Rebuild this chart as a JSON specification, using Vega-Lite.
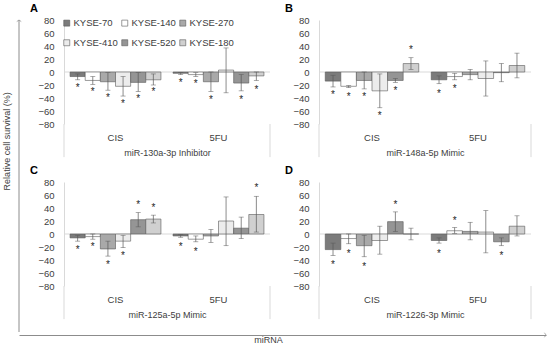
{
  "$schema": "https://vega.github.io/schema/vega-lite/v6.json",
  "padding": {"left": 2, "top": 3, "right": 2, "bottom": 0},
  "config": {
    "view": {"stroke": null},
    "font": "Liberation Sans",
    "axis": {"grid": false, "labelOverlap": false}
  },
  "datasets": {
    "d": [
      {"p": "A", "g": "CIS", "c": "KYSE-70", "v": -7, "lo": -12, "hi": -3, "s": -21},
      {"p": "A", "g": "CIS", "c": "KYSE-140", "v": -13, "lo": -19, "hi": -7, "s": -28},
      {"p": "A", "g": "CIS", "c": "KYSE-270", "v": -15, "lo": -28, "hi": -1, "s": -37},
      {"p": "A", "g": "CIS", "c": "KYSE-410", "v": -22, "lo": -37, "hi": -7, "s": -46},
      {"p": "A", "g": "CIS", "c": "KYSE-520", "v": -16, "lo": -30, "hi": -1, "s": -38},
      {"p": "A", "g": "CIS", "c": "KYSE-180", "v": -12, "lo": -20, "hi": -3, "s": -28},
      {"p": "A", "g": "5FU", "c": "KYSE-70", "v": -2, "lo": -4, "hi": -1, "s": -14},
      {"p": "A", "g": "5FU", "c": "KYSE-140", "v": -4, "lo": -7, "hi": -1, "s": -16},
      {"p": "A", "g": "5FU", "c": "KYSE-270", "v": -15, "lo": -30, "hi": 0, "s": -40},
      {"p": "A", "g": "5FU", "c": "KYSE-410", "v": 3, "lo": -32, "hi": 37, "s": null},
      {"p": "A", "g": "5FU", "c": "KYSE-520", "v": -17, "lo": -29, "hi": -4, "s": -40},
      {"p": "A", "g": "5FU", "c": "KYSE-180", "v": -6, "lo": -13, "hi": 0, "s": -24},

      {"p": "B", "g": "CIS", "c": "KYSE-70", "v": -14, "lo": -23, "hi": -5, "s": -32},
      {"p": "B", "g": "CIS", "c": "KYSE-140", "v": -22, "lo": -24, "hi": -21, "s": -35},
      {"p": "B", "g": "CIS", "c": "KYSE-270", "v": -13, "lo": -26, "hi": 0, "s": -36},
      {"p": "B", "g": "CIS", "c": "KYSE-410", "v": -29, "lo": -55, "hi": -3, "s": -65},
      {"p": "B", "g": "CIS", "c": "KYSE-520", "v": -13, "lo": -16, "hi": -10, "s": -26},
      {"p": "B", "g": "CIS", "c": "KYSE-180", "v": 13, "lo": 4, "hi": 22, "s": 37},
      {"p": "B", "g": "5FU", "c": "KYSE-70", "v": -12, "lo": -18, "hi": -6, "s": -30},
      {"p": "B", "g": "5FU", "c": "KYSE-140", "v": -7, "lo": -12, "hi": -2, "s": -23},
      {"p": "B", "g": "5FU", "c": "KYSE-270", "v": -4, "lo": -12, "hi": 4, "s": null},
      {"p": "B", "g": "5FU", "c": "KYSE-410", "v": -10, "lo": -37, "hi": 17, "s": null},
      {"p": "B", "g": "5FU", "c": "KYSE-520", "v": -1, "lo": -15, "hi": 13, "s": null},
      {"p": "B", "g": "5FU", "c": "KYSE-180", "v": 10, "lo": -9, "hi": 29, "s": null},

      {"p": "C", "g": "CIS", "c": "KYSE-70", "v": -6, "lo": -11, "hi": -2, "s": -21},
      {"p": "C", "g": "CIS", "c": "KYSE-140", "v": -4, "lo": -8, "hi": 0, "s": -17},
      {"p": "C", "g": "CIS", "c": "KYSE-270", "v": -23, "lo": -34, "hi": -11, "s": -44},
      {"p": "C", "g": "CIS", "c": "KYSE-410", "v": -11, "lo": -21, "hi": -2, "s": -30},
      {"p": "C", "g": "CIS", "c": "KYSE-520", "v": 22, "lo": 11, "hi": 33, "s": 48},
      {"p": "C", "g": "CIS", "c": "KYSE-180", "v": 23, "lo": 17, "hi": 29, "s": 43},
      {"p": "C", "g": "5FU", "c": "KYSE-70", "v": -3, "lo": -5, "hi": -1, "s": -17},
      {"p": "C", "g": "5FU", "c": "KYSE-140", "v": -8, "lo": -12, "hi": -3, "s": -24},
      {"p": "C", "g": "5FU", "c": "KYSE-270", "v": -3, "lo": -13, "hi": 7, "s": null},
      {"p": "C", "g": "5FU", "c": "KYSE-410", "v": 20, "lo": -18, "hi": 57, "s": null},
      {"p": "C", "g": "5FU", "c": "KYSE-520", "v": 9, "lo": -7, "hi": 26, "s": null},
      {"p": "C", "g": "5FU", "c": "KYSE-180", "v": 30, "lo": 3, "hi": 58, "s": 74},

      {"p": "D", "g": "CIS", "c": "KYSE-70", "v": -24, "lo": -33, "hi": -14, "s": -45},
      {"p": "D", "g": "CIS", "c": "KYSE-140", "v": -7, "lo": -15, "hi": 0, "s": -27},
      {"p": "D", "g": "CIS", "c": "KYSE-270", "v": -18, "lo": -35, "hi": -2, "s": -47},
      {"p": "D", "g": "CIS", "c": "KYSE-410", "v": -10, "lo": -31, "hi": 12, "s": null},
      {"p": "D", "g": "CIS", "c": "KYSE-520", "v": 19, "lo": 4, "hi": 34, "s": 47},
      {"p": "D", "g": "CIS", "c": "KYSE-180", "v": 0, "lo": -9, "hi": 9, "s": null},
      {"p": "D", "g": "5FU", "c": "KYSE-70", "v": -10, "lo": -14, "hi": -6, "s": -27},
      {"p": "D", "g": "5FU", "c": "KYSE-140", "v": 5, "lo": 1, "hi": 10, "s": 23},
      {"p": "D", "g": "5FU", "c": "KYSE-270", "v": 4, "lo": -9, "hi": 18, "s": null},
      {"p": "D", "g": "5FU", "c": "KYSE-410", "v": 3, "lo": -29, "hi": 36, "s": null},
      {"p": "D", "g": "5FU", "c": "KYSE-520", "v": -12, "lo": -18, "hi": -6, "s": -31},
      {"p": "D", "g": "5FU", "c": "KYSE-180", "v": 12, "lo": -3, "hi": 28, "s": null}
    ]
  },
  "hconcat": [
    {
      "width": 1,
      "height": 312,
      "layer": [
        {"data": {"values": [{}]}, "mark": {"type": "rule", "strokeOpacity": 0},
          "encoding": {"y": {"datum": 0, "type": "quantitative", "scale": {"domain": [0, 1]}, "axis": null}, "y2": {"datum": 1}}},
        {"data": {"values": [{"t": "Relative cell survival (%)"}]},
          "mark": {"type": "text", "angle": 270, "fontSize": 9, "color": "#404040", "baseline": "middle", "align": "center"},
          "encoding": {"text": {"field": "t"}, "y": {"datum": 0.611, "type": "quantitative", "axis": null}}}
      ]
    },
    {
      "vconcat": [
        {
          "hconcat": [
            {
              "width": 1,
              "height": 312,
              "layer": [
                {"data": {"values": [{}]}, "mark": {"type": "rule", "color": "#8c8c8c", "strokeWidth": 1},
                  "encoding": {"x": {"datum": 0, "type": "quantitative", "scale": {"domain": [0, 1]}, "axis": null},
                    "y": {"datum": 0, "type": "quantitative", "scale": {"domain": [0, 1]}, "axis": null}, "y2": {"datum": 1}}},
                {"data": {"values": [{}]}, "mark": {"type": "point", "shape": "M-1,0.7L0,0L1,0.7", "filled": false, "stroke": "#8c8c8c", "strokeWidth": 1, "size": 20},
                  "encoding": {"x": {"datum": 0, "type": "quantitative", "axis": null},
                    "y": {"datum": 1, "type": "quantitative", "axis": null}}}
              ]
            },
            {
              "concat": [
                {
                  "width": 206, "height": 104,
                  "title": {"text": "A", "anchor": "start", "frame": "group", "dx": -34, "fontSize": 11, "fontWeight": "bold", "color": "#000000", "offset": 1},
                  "layer": [
                    {
                      "data": {"name": "d"},
                      "transform": [{"filter": "datum.p === 'A'"}],
                      "layer": [
                        {"data": {"values": [{}]}, "mark": {"type": "rule", "color": "#d9d9d9", "strokeWidth": 1},
                          "encoding": {"y": {"datum": 0, "type": "quantitative", "scale": {"domain": [-80, 80]},
                            "axis": {"values": [-80, -60, -40, -20, 0, 20, 40, 60, 80], "tickCount": 10, "labelOverlap": false, "title": null, "ticks": false, "domain": true, "domainColor": "#d9d9d9", "labelPadding": 10, "labelFontSize": 9.5, "labelColor": "#404040"}}}},
                        {"mark": {"type": "bar", "stroke": "#595959", "strokeWidth": 0.6},
                          "encoding": {
                            "x": {"field": "g", "type": "nominal", "sort": ["CIS", "5FU"], "scale": {"paddingInner": 0, "paddingOuter": 0},
                              "axis": {"title": "miR-130a-3p Inhibitor", "labelAngle": 0, "domain": false, "ticks": false, "labelPadding": 8, "titlePadding": 7, "labelFontSize": 9.5, "titleFontSize": 9, "titleFontWeight": "normal", "labelColor": "#404040", "titleColor": "#404040"}},
                            "xOffset": {"field": "c", "type": "nominal", "sort": ["KYSE-70", "KYSE-140", "KYSE-270", "KYSE-410", "KYSE-520", "KYSE-180"], "scale": {"paddingInner": 0, "paddingOuter": 0.4}},
                            "y": {"field": "v", "type": "quantitative", "scale": {"domain": [-80, 80]},
                              "axis": {"values": [-80, -60, -40, -20, 0, 20, 40, 60, 80], "tickCount": 10, "labelOverlap": false, "title": null, "ticks": false, "domain": true, "domainColor": "#d9d9d9", "labelPadding": 10, "labelFontSize": 9.5, "labelColor": "#404040"}},
                            "fill": {"field": "c", "type": "nominal", "sort": ["KYSE-70", "KYSE-140", "KYSE-270", "KYSE-410", "KYSE-520", "KYSE-180"],
                              "scale": {"domain": ["KYSE-70", "KYSE-140", "KYSE-270", "KYSE-410", "KYSE-520", "KYSE-180"], "range": ["#7b7b7b", "#ffffff", "#a9a9a9", "#ececec", "#959595", "#d0d0d0"]},
                              "legend": {"orient": "top-left", "direction": "horizontal", "columns": 3, "title": null, "symbolType": "square", "symbolSize": 36, "symbolStrokeColor": "#595959", "symbolStrokeWidth": 0.6, "labelFontSize": 9.5, "labelColor": "#404040", "labelOffset": 2, "rowPadding": 9, "columnPadding": 2, "offset": -2, "padding": 0}}
                          }},
                        {"mark": {"type": "rule", "color": "#595959", "strokeWidth": 0.7},
                          "encoding": {
                            "x": {"field": "g", "type": "nominal", "sort": ["CIS", "5FU"]},
                            "xOffset": {"field": "c", "type": "nominal", "sort": ["KYSE-70", "KYSE-140", "KYSE-270", "KYSE-410", "KYSE-520", "KYSE-180"]},
                            "y": {"field": "lo", "type": "quantitative"}, "y2": {"field": "hi"}}},
                        {"mark": {"type": "tick", "color": "#595959", "thickness": 0.7, "size": 5},
                          "encoding": {
                            "x": {"field": "g", "type": "nominal", "sort": ["CIS", "5FU"]},
                            "xOffset": {"field": "c", "type": "nominal", "sort": ["KYSE-70", "KYSE-140", "KYSE-270", "KYSE-410", "KYSE-520", "KYSE-180"]},
                            "y": {"field": "lo", "type": "quantitative"}}},
                        {"mark": {"type": "tick", "color": "#595959", "thickness": 0.7, "size": 5},
                          "encoding": {
                            "x": {"field": "g", "type": "nominal", "sort": ["CIS", "5FU"]},
                            "xOffset": {"field": "c", "type": "nominal", "sort": ["KYSE-70", "KYSE-140", "KYSE-270", "KYSE-410", "KYSE-520", "KYSE-180"]},
                            "y": {"field": "hi", "type": "quantitative"}}},
                        {"transform": [{"filter": "datum.s != null"}],
                          "mark": {"type": "text", "text": "*", "fontSize": 10, "color": "#262626", "baseline": "middle", "dy": 2},
                          "encoding": {
                            "x": {"field": "g", "type": "nominal", "sort": ["CIS", "5FU"]},
                            "xOffset": {"field": "c", "type": "nominal", "sort": ["KYSE-70", "KYSE-140", "KYSE-270", "KYSE-410", "KYSE-520", "KYSE-180"]},
                            "y": {"field": "s", "type": "quantitative"}}}
                      ]
                    },
                    {"data": {"values": [{"q": 0}, {"q": 1}]}, "mark": {"type": "rule", "color": "#d9d9d9", "strokeWidth": 1},
                      "encoding": {
                        "x": {"field": "q", "type": "quantitative", "scale": {"domain": [0, 1], "nice": false, "zero": false}, "axis": null},
                        "y": {"datum": -80, "type": "quantitative", "scale": {"domain": [-80, 80]}},
                        "y2": {"datum": -131}}}
                  ],
                  "resolve": {"scale": {"x": "independent"}}
                },
                {
                  "width": 212, "height": 104,
                  "title": {"text": "B", "anchor": "start", "frame": "group", "dx": -34, "fontSize": 11, "fontWeight": "bold", "color": "#000000", "offset": 1},
                  "layer": [
                    {
                      "data": {"name": "d"},
                      "transform": [{"filter": "datum.p === 'B'"}],
                      "layer": [
                        {"data": {"values": [{}]}, "mark": {"type": "rule", "color": "#d9d9d9", "strokeWidth": 1},
                          "encoding": {"y": {"datum": 0, "type": "quantitative", "scale": {"domain": [-80, 80]},
                            "axis": {"values": [-80, -60, -40, -20, 0, 20, 40, 60, 80], "tickCount": 10, "labelOverlap": false, "title": null, "ticks": false, "domain": true, "domainColor": "#d9d9d9", "labelPadding": 10, "labelFontSize": 9.5, "labelColor": "#404040"}}}},
                        {"mark": {"type": "bar", "stroke": "#595959", "strokeWidth": 0.6},
                          "encoding": {
                            "x": {"field": "g", "type": "nominal", "sort": ["CIS", "5FU"], "scale": {"paddingInner": 0, "paddingOuter": 0},
                              "axis": {"title": "miR-148a-5p Mimic", "labelAngle": 0, "domain": false, "ticks": false, "labelPadding": 8, "titlePadding": 7, "labelFontSize": 9.5, "titleFontSize": 9, "titleFontWeight": "normal", "labelColor": "#404040", "titleColor": "#404040"}},
                            "xOffset": {"field": "c", "type": "nominal", "sort": ["KYSE-70", "KYSE-140", "KYSE-270", "KYSE-410", "KYSE-520", "KYSE-180"], "scale": {"paddingInner": 0, "paddingOuter": 0.4}},
                            "y": {"field": "v", "type": "quantitative", "scale": {"domain": [-80, 80]},
                              "axis": {"values": [-80, -60, -40, -20, 0, 20, 40, 60, 80], "tickCount": 10, "labelOverlap": false, "title": null, "ticks": false, "domain": true, "domainColor": "#d9d9d9", "labelPadding": 10, "labelFontSize": 9.5, "labelColor": "#404040"}},
                            "fill": {"field": "c", "type": "nominal",
                              "scale": {"domain": ["KYSE-70", "KYSE-140", "KYSE-270", "KYSE-410", "KYSE-520", "KYSE-180"], "range": ["#7b7b7b", "#ffffff", "#a9a9a9", "#ececec", "#959595", "#d0d0d0"]},
                              "legend": null}
                          }},
                        {"mark": {"type": "rule", "color": "#595959", "strokeWidth": 0.7},
                          "encoding": {
                            "x": {"field": "g", "type": "nominal", "sort": ["CIS", "5FU"]},
                            "xOffset": {"field": "c", "type": "nominal", "sort": ["KYSE-70", "KYSE-140", "KYSE-270", "KYSE-410", "KYSE-520", "KYSE-180"]},
                            "y": {"field": "lo", "type": "quantitative"}, "y2": {"field": "hi"}}},
                        {"mark": {"type": "tick", "color": "#595959", "thickness": 0.7, "size": 5},
                          "encoding": {
                            "x": {"field": "g", "type": "nominal", "sort": ["CIS", "5FU"]},
                            "xOffset": {"field": "c", "type": "nominal", "sort": ["KYSE-70", "KYSE-140", "KYSE-270", "KYSE-410", "KYSE-520", "KYSE-180"]},
                            "y": {"field": "lo", "type": "quantitative"}}},
                        {"mark": {"type": "tick", "color": "#595959", "thickness": 0.7, "size": 5},
                          "encoding": {
                            "x": {"field": "g", "type": "nominal", "sort": ["CIS", "5FU"]},
                            "xOffset": {"field": "c", "type": "nominal", "sort": ["KYSE-70", "KYSE-140", "KYSE-270", "KYSE-410", "KYSE-520", "KYSE-180"]},
                            "y": {"field": "hi", "type": "quantitative"}}},
                        {"transform": [{"filter": "datum.s != null"}],
                          "mark": {"type": "text", "text": "*", "fontSize": 10, "color": "#262626", "baseline": "middle", "dy": 2},
                          "encoding": {
                            "x": {"field": "g", "type": "nominal", "sort": ["CIS", "5FU"]},
                            "xOffset": {"field": "c", "type": "nominal", "sort": ["KYSE-70", "KYSE-140", "KYSE-270", "KYSE-410", "KYSE-520", "KYSE-180"]},
                            "y": {"field": "s", "type": "quantitative"}}}
                      ]
                    },
                    {"data": {"values": [{"q": 0}, {"q": 1}]}, "mark": {"type": "rule", "color": "#d9d9d9", "strokeWidth": 1},
                      "encoding": {
                        "x": {"field": "q", "type": "quantitative", "scale": {"domain": [0, 1], "nice": false, "zero": false}, "axis": null},
                        "y": {"datum": -80, "type": "quantitative", "scale": {"domain": [-80, 80]}},
                        "y2": {"datum": -131}}}
                  ],
                  "resolve": {"scale": {"x": "independent"}}
                },
                {
                  "width": 206, "height": 104,
                  "title": {"text": "C", "anchor": "start", "frame": "group", "dx": -34, "fontSize": 11, "fontWeight": "bold", "color": "#000000", "offset": 1},
                  "layer": [
                    {
                      "data": {"name": "d"},
                      "transform": [{"filter": "datum.p === 'C'"}],
                      "layer": [
                        {"data": {"values": [{}]}, "mark": {"type": "rule", "color": "#d9d9d9", "strokeWidth": 1},
                          "encoding": {"y": {"datum": 0, "type": "quantitative", "scale": {"domain": [-80, 80]},
                            "axis": {"values": [-80, -60, -40, -20, 0, 20, 40, 60, 80], "tickCount": 10, "labelOverlap": false, "title": null, "ticks": false, "domain": true, "domainColor": "#d9d9d9", "labelPadding": 10, "labelFontSize": 9.5, "labelColor": "#404040"}}}},
                        {"mark": {"type": "bar", "stroke": "#595959", "strokeWidth": 0.6},
                          "encoding": {
                            "x": {"field": "g", "type": "nominal", "sort": ["CIS", "5FU"], "scale": {"paddingInner": 0, "paddingOuter": 0},
                              "axis": {"title": "miR-125a-5p Mimic", "labelAngle": 0, "domain": false, "ticks": false, "labelPadding": 8, "titlePadding": 7, "labelFontSize": 9.5, "titleFontSize": 9, "titleFontWeight": "normal", "labelColor": "#404040", "titleColor": "#404040"}},
                            "xOffset": {"field": "c", "type": "nominal", "sort": ["KYSE-70", "KYSE-140", "KYSE-270", "KYSE-410", "KYSE-520", "KYSE-180"], "scale": {"paddingInner": 0, "paddingOuter": 0.4}},
                            "y": {"field": "v", "type": "quantitative", "scale": {"domain": [-80, 80]},
                              "axis": {"values": [-80, -60, -40, -20, 0, 20, 40, 60, 80], "tickCount": 10, "labelOverlap": false, "title": null, "ticks": false, "domain": true, "domainColor": "#d9d9d9", "labelPadding": 10, "labelFontSize": 9.5, "labelColor": "#404040"}},
                            "fill": {"field": "c", "type": "nominal",
                              "scale": {"domain": ["KYSE-70", "KYSE-140", "KYSE-270", "KYSE-410", "KYSE-520", "KYSE-180"], "range": ["#7b7b7b", "#ffffff", "#a9a9a9", "#ececec", "#959595", "#d0d0d0"]},
                              "legend": null}
                          }},
                        {"mark": {"type": "rule", "color": "#595959", "strokeWidth": 0.7},
                          "encoding": {
                            "x": {"field": "g", "type": "nominal", "sort": ["CIS", "5FU"]},
                            "xOffset": {"field": "c", "type": "nominal", "sort": ["KYSE-70", "KYSE-140", "KYSE-270", "KYSE-410", "KYSE-520", "KYSE-180"]},
                            "y": {"field": "lo", "type": "quantitative"}, "y2": {"field": "hi"}}},
                        {"mark": {"type": "tick", "color": "#595959", "thickness": 0.7, "size": 5},
                          "encoding": {
                            "x": {"field": "g", "type": "nominal", "sort": ["CIS", "5FU"]},
                            "xOffset": {"field": "c", "type": "nominal", "sort": ["KYSE-70", "KYSE-140", "KYSE-270", "KYSE-410", "KYSE-520", "KYSE-180"]},
                            "y": {"field": "lo", "type": "quantitative"}}},
                        {"mark": {"type": "tick", "color": "#595959", "thickness": 0.7, "size": 5},
                          "encoding": {
                            "x": {"field": "g", "type": "nominal", "sort": ["CIS", "5FU"]},
                            "xOffset": {"field": "c", "type": "nominal", "sort": ["KYSE-70", "KYSE-140", "KYSE-270", "KYSE-410", "KYSE-520", "KYSE-180"]},
                            "y": {"field": "hi", "type": "quantitative"}}},
                        {"transform": [{"filter": "datum.s != null"}],
                          "mark": {"type": "text", "text": "*", "fontSize": 10, "color": "#262626", "baseline": "middle", "dy": 2},
                          "encoding": {
                            "x": {"field": "g", "type": "nominal", "sort": ["CIS", "5FU"]},
                            "xOffset": {"field": "c", "type": "nominal", "sort": ["KYSE-70", "KYSE-140", "KYSE-270", "KYSE-410", "KYSE-520", "KYSE-180"]},
                            "y": {"field": "s", "type": "quantitative"}}}
                      ]
                    },
                    {"data": {"values": [{"q": 0}, {"q": 1}]}, "mark": {"type": "rule", "color": "#d9d9d9", "strokeWidth": 1},
                      "encoding": {
                        "x": {"field": "q", "type": "quantitative", "scale": {"domain": [0, 1], "nice": false, "zero": false}, "axis": null},
                        "y": {"datum": -80, "type": "quantitative", "scale": {"domain": [-80, 80]}},
                        "y2": {"datum": -131}}}
                  ],
                  "resolve": {"scale": {"x": "independent"}}
                },
                {
                  "width": 212, "height": 104,
                  "title": {"text": "D", "anchor": "start", "frame": "group", "dx": -34, "fontSize": 11, "fontWeight": "bold", "color": "#000000", "offset": 1},
                  "layer": [
                    {
                      "data": {"name": "d"},
                      "transform": [{"filter": "datum.p === 'D'"}],
                      "layer": [
                        {"data": {"values": [{}]}, "mark": {"type": "rule", "color": "#d9d9d9", "strokeWidth": 1},
                          "encoding": {"y": {"datum": 0, "type": "quantitative", "scale": {"domain": [-80, 80]},
                            "axis": {"values": [-80, -60, -40, -20, 0, 20, 40, 60, 80], "tickCount": 10, "labelOverlap": false, "title": null, "ticks": false, "domain": true, "domainColor": "#d9d9d9", "labelPadding": 10, "labelFontSize": 9.5, "labelColor": "#404040"}}}},
                        {"mark": {"type": "bar", "stroke": "#595959", "strokeWidth": 0.6},
                          "encoding": {
                            "x": {"field": "g", "type": "nominal", "sort": ["CIS", "5FU"], "scale": {"paddingInner": 0, "paddingOuter": 0},
                              "axis": {"title": "miR-1226-3p Mimic", "labelAngle": 0, "domain": false, "ticks": false, "labelPadding": 8, "titlePadding": 7, "labelFontSize": 9.5, "titleFontSize": 9, "titleFontWeight": "normal", "labelColor": "#404040", "titleColor": "#404040"}},
                            "xOffset": {"field": "c", "type": "nominal", "sort": ["KYSE-70", "KYSE-140", "KYSE-270", "KYSE-410", "KYSE-520", "KYSE-180"], "scale": {"paddingInner": 0, "paddingOuter": 0.4}},
                            "y": {"field": "v", "type": "quantitative", "scale": {"domain": [-80, 80]},
                              "axis": {"values": [-80, -60, -40, -20, 0, 20, 40, 60, 80], "tickCount": 10, "labelOverlap": false, "title": null, "ticks": false, "domain": true, "domainColor": "#d9d9d9", "labelPadding": 10, "labelFontSize": 9.5, "labelColor": "#404040"}},
                            "fill": {"field": "c", "type": "nominal",
                              "scale": {"domain": ["KYSE-70", "KYSE-140", "KYSE-270", "KYSE-410", "KYSE-520", "KYSE-180"], "range": ["#7b7b7b", "#ffffff", "#a9a9a9", "#ececec", "#959595", "#d0d0d0"]},
                              "legend": null}
                          }},
                        {"mark": {"type": "rule", "color": "#595959", "strokeWidth": 0.7},
                          "encoding": {
                            "x": {"field": "g", "type": "nominal", "sort": ["CIS", "5FU"]},
                            "xOffset": {"field": "c", "type": "nominal", "sort": ["KYSE-70", "KYSE-140", "KYSE-270", "KYSE-410", "KYSE-520", "KYSE-180"]},
                            "y": {"field": "lo", "type": "quantitative"}, "y2": {"field": "hi"}}},
                        {"mark": {"type": "tick", "color": "#595959", "thickness": 0.7, "size": 5},
                          "encoding": {
                            "x": {"field": "g", "type": "nominal", "sort": ["CIS", "5FU"]},
                            "xOffset": {"field": "c", "type": "nominal", "sort": ["KYSE-70", "KYSE-140", "KYSE-270", "KYSE-410", "KYSE-520", "KYSE-180"]},
                            "y": {"field": "lo", "type": "quantitative"}}},
                        {"mark": {"type": "tick", "color": "#595959", "thickness": 0.7, "size": 5},
                          "encoding": {
                            "x": {"field": "g", "type": "nominal", "sort": ["CIS", "5FU"]},
                            "xOffset": {"field": "c", "type": "nominal", "sort": ["KYSE-70", "KYSE-140", "KYSE-270", "KYSE-410", "KYSE-520", "KYSE-180"]},
                            "y": {"field": "hi", "type": "quantitative"}}},
                        {"transform": [{"filter": "datum.s != null"}],
                          "mark": {"type": "text", "text": "*", "fontSize": 10, "color": "#262626", "baseline": "middle", "dy": 2},
                          "encoding": {
                            "x": {"field": "g", "type": "nominal", "sort": ["CIS", "5FU"]},
                            "xOffset": {"field": "c", "type": "nominal", "sort": ["KYSE-70", "KYSE-140", "KYSE-270", "KYSE-410", "KYSE-520", "KYSE-180"]},
                            "y": {"field": "s", "type": "quantitative"}}}
                      ]
                    },
                    {"data": {"values": [{"q": 0}, {"q": 1}]}, "mark": {"type": "rule", "color": "#d9d9d9", "strokeWidth": 1},
                      "encoding": {
                        "x": {"field": "q", "type": "quantitative", "scale": {"domain": [0, 1], "nice": false, "zero": false}, "axis": null},
                        "y": {"datum": -80, "type": "quantitative", "scale": {"domain": [-80, 80]}},
                        "y2": {"datum": -131}}}
                  ],
                  "resolve": {"scale": {"x": "independent"}}
                }
              ],
              "columns": 2,
              "spacing": {"row": 7, "column": 14},
              "resolve": {"scale": {"x": "independent", "y": "independent", "xOffset": "independent", "fill": "independent"}, "legend": {"fill": "independent"}}
            }
          ],
          "spacing": 6,
          "resolve": {"scale": {"x": "independent", "y": "independent"}}
        },
        {
          "width": 527,
          "height": 1,
          "data": {"values": [{}]},
          "mark": {"type": "point", "shape": "M-0.7,-1L0,0L-0.7,1", "filled": false, "stroke": "#8c8c8c", "strokeWidth": 1, "size": 20},
          "encoding": {
            "x": {"datum": 1, "type": "quantitative", "scale": {"domain": [0, 1]},
              "axis": {"domain": true, "domainColor": "#8c8c8c", "ticks": false, "labels": false, "grid": false,
                "title": "miRNA", "titlePadding": 0, "titleFontSize": 9, "titleFontWeight": "normal", "titleColor": "#404040", "titleX": 249}},
            "y": {"datum": 0, "type": "quantitative", "scale": {"domain": [0, 1]}, "axis": null}
          }
        }
      ],
      "spacing": -3,
      "resolve": {"scale": {"x": "independent", "y": "independent"}}
    }
  ],
  "spacing": 2,
  "resolve": {"scale": {"x": "independent", "y": "independent"}}
}
